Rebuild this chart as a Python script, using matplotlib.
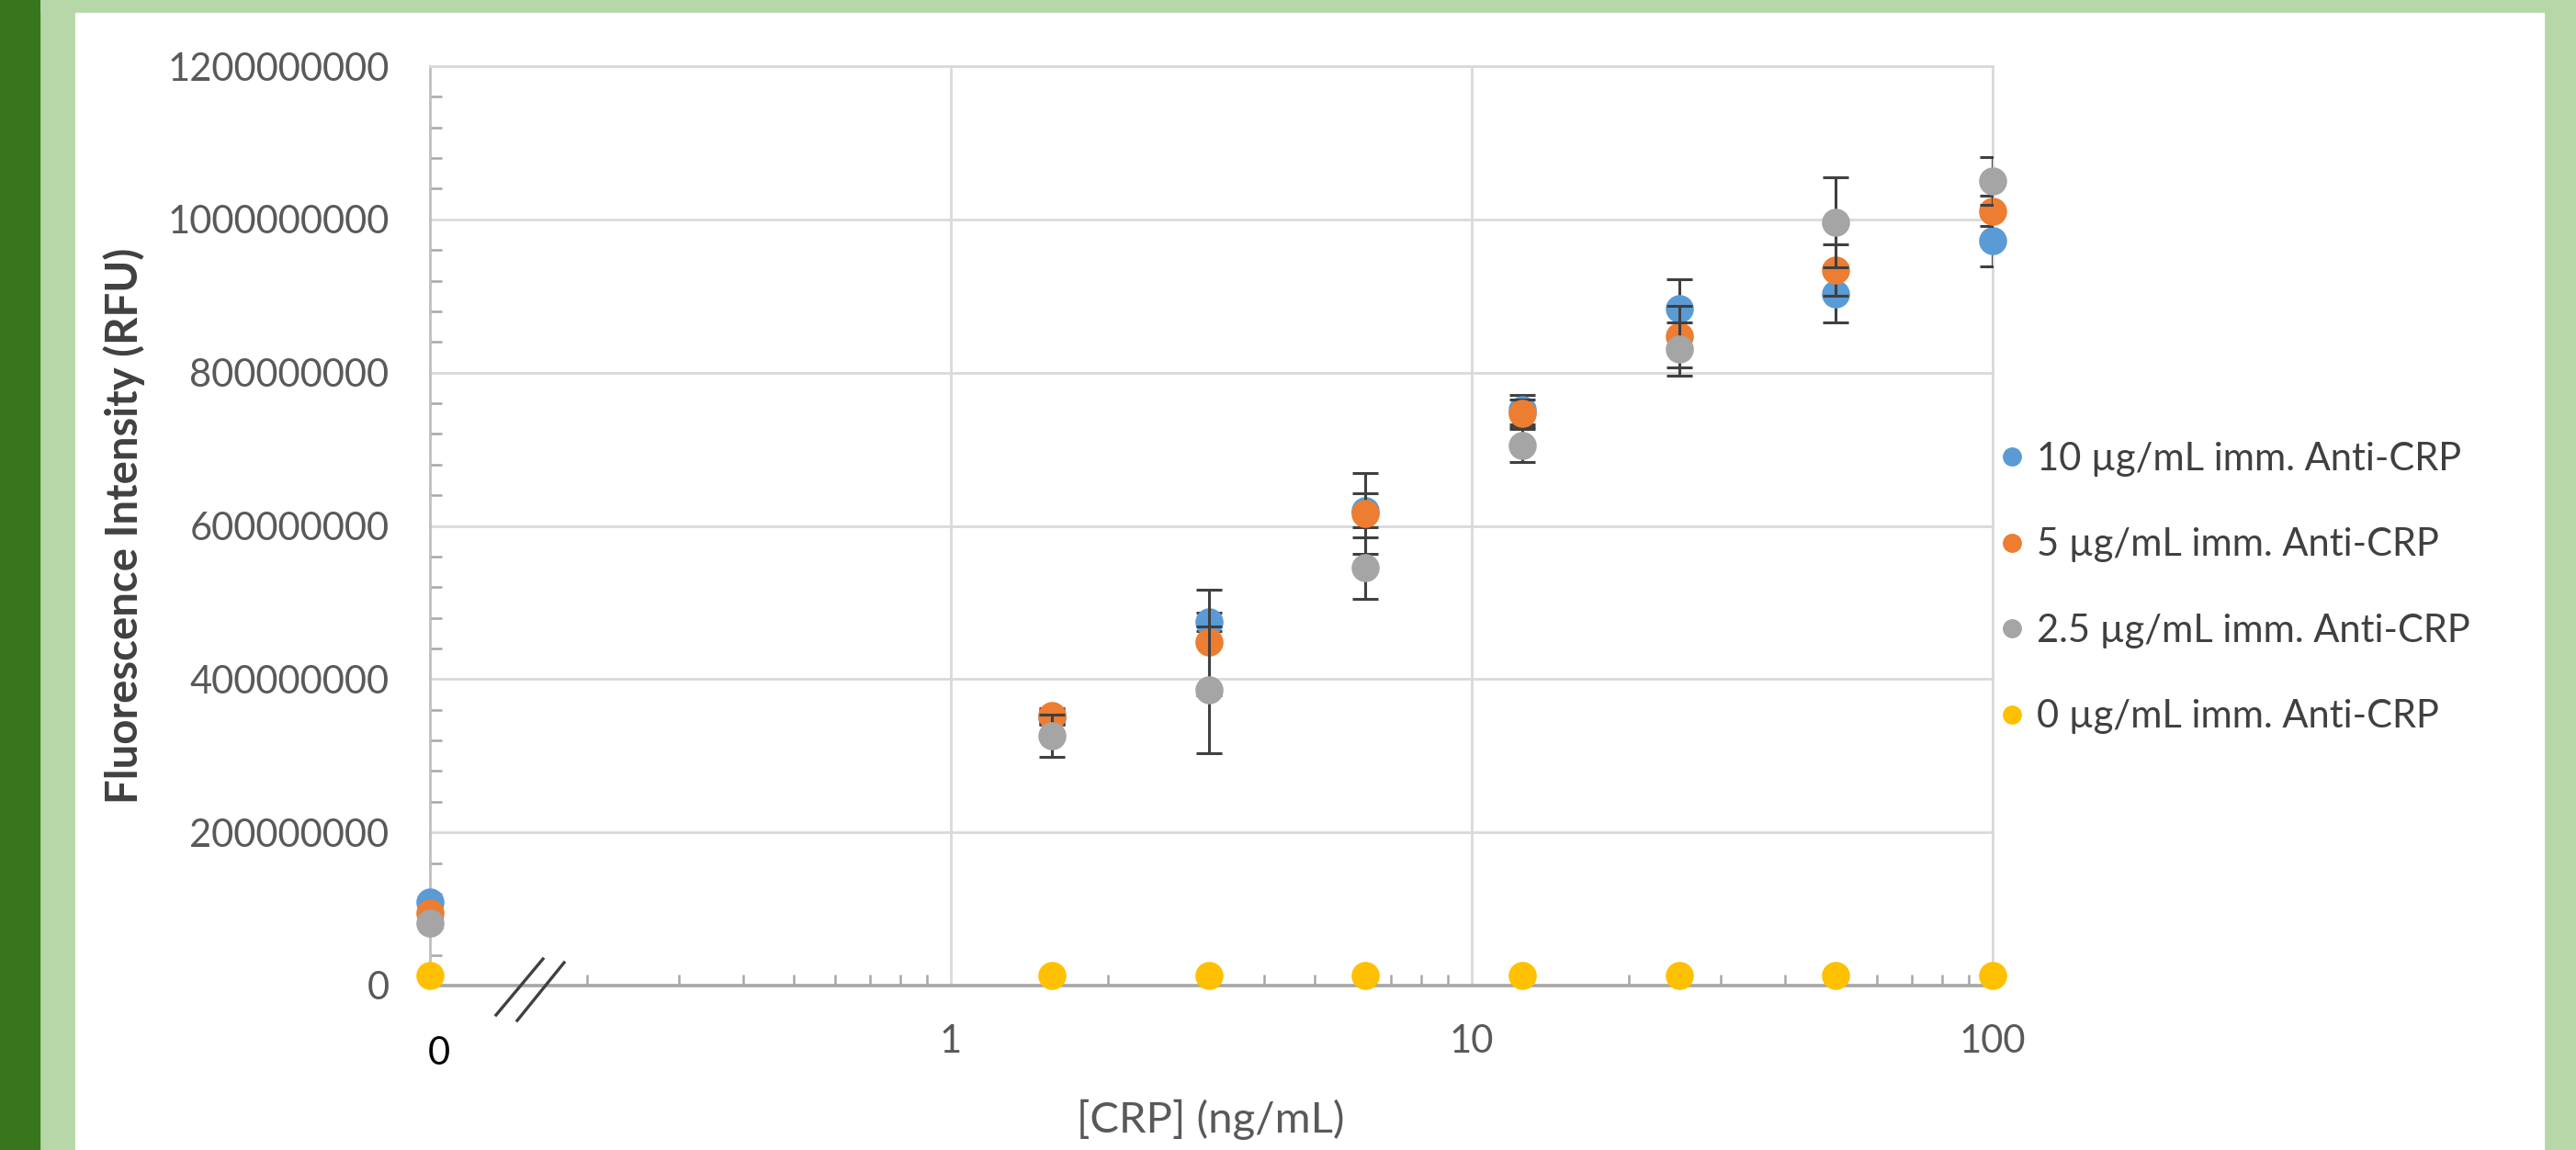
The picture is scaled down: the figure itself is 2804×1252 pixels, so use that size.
import matplotlib
matplotlib.use("Agg")
from matplotlib import pyplot as plt
from matplotlib.lines import Line2D
from matplotlib.patches import Rectangle
from matplotlib.ticker import MultipleLocator, FuncFormatter, LogLocator, NullFormatter

# CRP concentrations (ng/mL); the 0 ng/mL point sits at the left edge (0.1 on the log axis)
crp = [0.1, 1.5625, 3.125, 6.25, 12.5, 25, 50, 100]

labels = ['10 µg/mL imm. Anti-CRP', '5 µg/mL imm. Anti-CRP',
          '2.5 µg/mL imm. Anti-CRP', '0 µg/mL imm. Anti-CRP']
colors = ['#5b9bd5', '#ed7d31', '#a5a5a5', '#ffc000']

fl_10 = [109e6, 350e6, 475e6, 620e6, 752e6, 884e6, 903e6, 972e6]
fl_5 = [95e6, 352e6, 448e6, 616e6, 747e6, 847e6, 934e6, 1011e6]
fl_25 = [81e6, 326e6, 386e6, 545e6, 705e6, 831e6, 996e6, 1050e6]
fl_0 = [13e6, 13e6, 13e6, 13e6, 13e6, 13e6, 13e6, 13e6]

err_10 = [5e6, 10e6, 12e6, 22e6, 19e6, 38e6, 37e6, 33e6]
err_5 = [5e6, 10e6, 69e6, 53e6, 18e6, 40e6, 34e6, 20e6]
err_25 = [6e6, 28e6, 83e6, 40e6, 22e6, 35e6, 59e6, 31e6]
err_0 = [1e6, 1e6, 1e6, 1e6, 1e6, 1e6, 1e6, 1e6]

series = [fl_10, fl_5, fl_25, fl_0]
errors = [err_10, err_5, err_25, err_0]

W, H = 2804, 1252
fig = plt.figure(figsize=(W / 200, H / 200), dpi=200)
plt.rcParams['font.family'] = ['Lato', 'DejaVu Sans']

# green frame around the chart
fig.patches.append(Rectangle((0, 0), 45 / W, 1, transform=fig.transFigure, color='#38761d', zorder=0))
fig.patches.append(Rectangle((45 / W, 0), 35 / W, 1, transform=fig.transFigure, color='#b6d7a8', zorder=0))
fig.patches.append(Rectangle((45 / W, 1 - 12 / H), 1, 12 / H, transform=fig.transFigure, color='#b6d7a8', zorder=0))
fig.patches.append(Rectangle((2771 / W, 0), 1, 1, transform=fig.transFigure, color='#b6d7a8', zorder=0))

ax = fig.add_axes([468 / W, 1 - 1073 / H, (2169 - 468) / W, (1073 - 72) / H])

for i, (vals, err) in enumerate(zip(series, errors)):
    ax.errorbar(crp, vals, yerr=err, fmt='none', ecolor='#404040', elinewidth=1.1,
                capsize=5, capthick=1.1, zorder=3 + 2 * i)
    ax.plot(crp, vals, 'o', color=colors[i], markersize=10, clip_on=False, zorder=4 + 2 * i)

ax.set_xscale('log')
ax.set_xlim(0.1, 100)
ax.set_ylim(0, 1.2e9)
ax.set_xticks([1, 10, 100])
ax.set_xticklabels(['1', '10', '100'])
ax.xaxis.set_minor_locator(LogLocator(base=10, subs=range(2, 10)))
ax.xaxis.set_minor_formatter(NullFormatter())
ax.yaxis.set_major_locator(MultipleLocator(2e8))
ax.yaxis.set_minor_locator(MultipleLocator(4e7))
ax.yaxis.set_major_formatter(FuncFormatter(lambda v, pos: f"{int(round(v))}"))

ax.grid(True, which='major', color='#d9d9d9', lw=1.0)
ax.set_axisbelow(True)
ax.tick_params(axis='both', which='major', length=0, labelsize=15, labelcolor='#595959')
ax.tick_params(axis='y', which='major', pad=16)
ax.tick_params(axis='x', which='major', pad=15)
ax.tick_params(axis='both', which='minor', direction='in', length=4.5, width=0.9, color='#a6a6a6')

for side in ['top', 'right']:
    ax.spines[side].set_color('#d9d9d9')
    ax.spines[side].set_linewidth(1.0)
ax.spines['left'].set_color('#bfbfbf')
ax.spines['left'].set_linewidth(1.0)
ax.spines['bottom'].set_color('#a6a6a6')
ax.spines['bottom'].set_linewidth(1.3)

# "0" label for the zero-concentration point and the axis break marks
ax.text(0.104, -0.074, '0', transform=ax.get_xaxis_transform(), ha='center', va='center',
        fontsize=15, color='#000000')
for x0, x1, y0, y1 in [(540, 591, 1105, 1044), (563, 614, 1111, 1048)]:
    fig.add_artist(Line2D([x0 / W, x1 / W], [1 - y0 / H, 1 - y1 / H], transform=fig.transFigure,
                          color='#404040', lw=1.2))

fig.text(1318 / W, 1 - 1219 / H, '[CRP] (ng/mL)', ha='center', va='center', fontsize=17, color='#595959')
fig.text(135 / W, 1 - 572 / H, 'Fluorescence Intensity (RFU)', ha='center', va='center',
         rotation=90, fontsize=17, fontweight='bold', color='#404040')

handles = [Line2D([], [], ls='', marker='o', color=c, markersize=6.5) for c in colors]
ax.legend(handles, labels, loc='upper left', bbox_to_anchor=(2177 / W, 1 - 481 / H),
          bbox_transform=fig.transFigure, frameon=False, fontsize=15, handlelength=0.6,
          handletextpad=0.35, labelspacing=1.33, borderpad=0, borderaxespad=0,
          labelcolor='#404040')

plt.savefig('out.png', dpi=200, facecolor='white')
